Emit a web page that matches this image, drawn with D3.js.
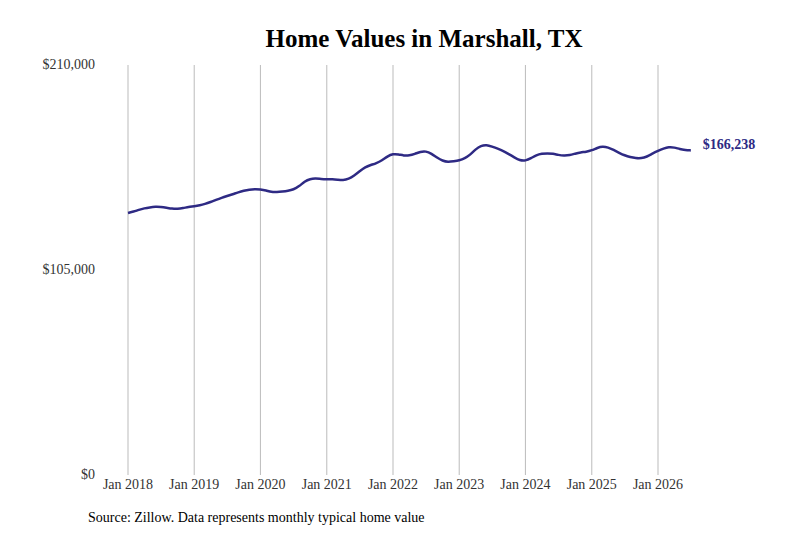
<!DOCTYPE html>
<html><head><meta charset="utf-8">
<script src="https://cdn.jsdelivr.net/npm/d3@7/dist/d3.min.js"></script>
<style>body{margin:0;background:#fff}</style>
</head><body>
<script>
// monthly typical home value, Jan 2018 .. Jul 2026 (thousands of $)
var values2018 = [134.2,134.9,135.8,136.6,137.1,137.4,137.3,136.9,136.4,136.3,136.7,137.3];
var values2019 = [137.6,138.1,138.8,139.8,140.9,142.0,142.9,143.8,144.8,145.6,146.2,146.4];
var values2020 = [146.3,145.8,144.9,144.9,145.2,145.6,146.2,147.8,150.4,151.7,151.9,151.6];
var values2021 = [151.5,151.5,151.3,151.0,151.6,153.3,155.6,157.7,158.8,159.7,161.1,163.2];
var values2022 = [164.5,164.2,163.6,163.6,164.4,165.6,165.9,164.6,162.5,160.9,160.3,160.7];
var values2023 = [161.1,162.2,163.9,166.8,168.7,169.1,168.2,167.2,166.0,164.4,162.7,161.1];
var values2024 = [160.9,162.2,163.9,164.6,164.7,164.6,163.9,163.6,163.8,164.6,165.3,165.5];
var values2025 = [166.3,167.6,168.3,167.8,166.5,165.0,163.7,162.8,162.3,162.2,163.0,164.6];
var values2026 = [166.0,167.2,168.0,167.8,166.9,166.5,166.238];
var yearTicks = [2018,2019,2020,2021,2022,2023,2024,2025,2026];
var yTicks = [0,105000,210000];

var all = [].concat(values2018,values2019,values2020,values2021,values2022,values2023,values2024,values2025,values2026);
var data = all.map(function(v,i){ return {date:new Date(2018, i, 1), value:v*1000}; });

var width = 800, height = 533;
var svg = d3.select("body").append("svg").attr("width",width).attr("height",height);
var x = d3.scaleTime().domain([new Date(2018,0,1), new Date(2026,0,1)]).range([128,658]);
var y = d3.scaleLinear().domain([0,210000]).range([475,65]);
var font = "'Liberation Serif', 'Times New Roman', serif";

svg.append("text").attr("x",424).attr("y",47).attr("text-anchor","middle")
  .style("font-family",font).style("font-size","25px").style("font-weight","bold")
  .text("Home Values in Marshall, TX");

svg.selectAll(".grid").data(yearTicks).enter().append("line")
  .attr("x1",function(d){return x(new Date(d,0,1));})
  .attr("x2",function(d){return x(new Date(d,0,1));})
  .attr("y1",65).attr("y2",475).attr("stroke","#bbb").attr("stroke-width",1);

svg.selectAll(".xt").data(yearTicks).enter().append("text")
  .attr("x",function(d){return x(new Date(d,0,1));}).attr("y",489)
  .attr("text-anchor","middle").style("font-family",font).style("font-size","14px").attr("fill","#333")
  .text(function(d){return "Jan " + d;});

svg.selectAll(".yt").data(yTicks).enter().append("text")
  .attr("x",95).attr("y",function(d){return y(d)+4;})
  .attr("text-anchor","end").style("font-family",font).style("font-size","14px").attr("fill","#333")
  .text(function(d){return "$" + d3.format(",")(d);});

var line = d3.line().x(function(d){return x(d.date);}).y(function(d){return y(d.value);}).curve(d3.curveBasis);
svg.append("path").datum(data).attr("d",line).attr("fill","none")
  .attr("stroke","#2e2a84").attr("stroke-width",2.5);

var last = data[data.length-1];
svg.append("text").attr("x",x(last.date)+12).attr("y",y(last.value)-1)
  .style("font-family",font).style("font-size","14px").style("font-weight","bold").attr("fill","#2e2a84")
  .text("$" + d3.format(",")(Math.round(last.value)));

svg.append("text").attr("x",88).attr("y",522).style("font-family",font).style("font-size","14px")
  .text("Source: Zillow. Data represents monthly typical home value");
</script>
</body></html>
